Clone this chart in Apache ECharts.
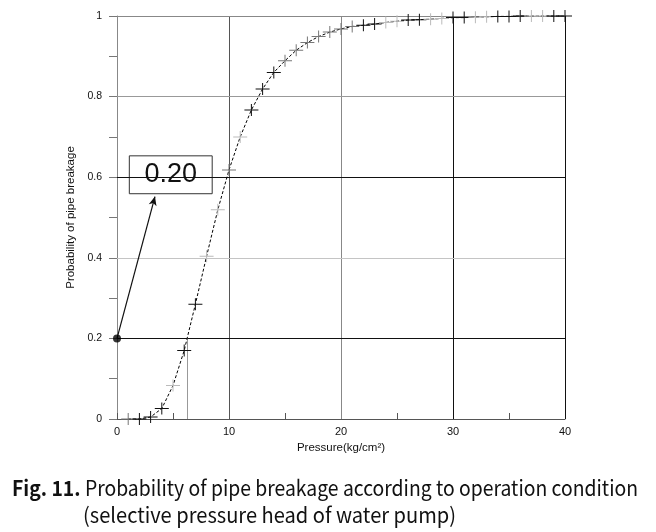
<!DOCTYPE html>
<html>
<head>
<meta charset="utf-8">
<script src="https://cdn.jsdelivr.net/npm/echarts@6/dist/echarts.min.js"></script>
<style>html,body{margin:0;padding:0;background:#fff;}#c{width:656px;height:532px;}</style>
</head>
<body>
<div id="c"></div>
<script>
// ---- data ----
const pressure = [1,2,3,4,5,6,7,8,9,10,11,12,13,14,15,16,17,18,19,20,21,22,23,24,25,26,27,28,29,30,31,32,33,34,35,36,37,38,39,40];
const probability = [0,0,0.005,0.026,0.083,0.17,0.285,0.404,0.519,0.618,0.70,0.767,0.819,0.86,0.889,0.915,0.934,0.949,0.96,0.968,0.974,0.977,0.98,0.984,0.987,0.99,0.991,0.992,0.994,0.996,0.996,0.997,0.998,0.999,0.999,1,1,1,1,1];
const xTicks = [0,10,20,30,40];
const yTicks = [0,0.2,0.4,0.6,0.8,1];
const selectedPoint = [0, 0.2];
const selectedLabel = '0.20';
const dropX = 6.25;           // pressure where curve reaches 0.2
const arrowEnd = [3.39, 0.552];
const boxCorners = [[1.1, 0.653], [8.5, 0.559]];
const xName = 'Pressure(kg/cm\u00B2)';
const yName = 'Probability of pipe breakage';
const captionBold = 'Fig. 11.';
const captionLine1 = ' Probability of pipe breakage according to operation condition';
const captionLine2 = '(selective pressure head of water pump)';

// ---- styles (not data) ----
const L='#bbb', G='#777', B='#111';
const crossShade = [G,B,B,B,L,B,B,L,L,G,L,B,B,B,G,G,G,G,G,G,G,B,B,L,L,B,B,L,L,B,B,L,L,B,B,B,L,L,B,B];

const chart = echarts.init(document.getElementById('c'), null, {renderer:'canvas'});
const AX = 'Liberation Sans, Arial, sans-serif';
const capFont = 'Noto Sans CJK KR';

function measure(txt, font){
  const c = document.createElement('canvas').getContext('2d');
  c.font = font; return c.measureText(txt).width;
}
const capSize = 21;
const w1 = measure(captionBold, 'bold '+capSize+'px "'+capFont+'"') + measure(captionLine1, capSize+'px "'+capFont+'"');
const s1 = (638-12)/w1;
const w2 = measure(captionLine2, capSize+'px "'+capFont+'"');
const s2 = (456-83)/w2;

const crossPath = 'path://M0,5.5h14v1h-14z M6.5,0h1v12h-1z';

const gridLines = [
  [{xAxis:10, lineStyle:{color:'#555'}}],
  [{xAxis:20, lineStyle:{color:'#888'}}],
  [{xAxis:30, lineStyle:{color:'#111'}}],
  [{xAxis:40, lineStyle:{color:'#111'}}],
  [{yAxis:0.2, lineStyle:{color:'#111'}}],
  [{yAxis:0.4, lineStyle:{color:'#c4c4c4'}}],
  [{yAxis:0.6, lineStyle:{color:'#111'}}],
  [{yAxis:0.8, lineStyle:{color:'#999'}}],
  [{yAxis:1, lineStyle:{color:'#888'}}],
  [{coord:[dropX,0], lineStyle:{color:'#999'}},{coord:[dropX,selectedPoint[1]]}]
].map(d => d.length===1 ? d[0] : d);

const option = {
  animation:false,
  backgroundColor:'#fff',
  grid:{left:117, top:16, width:448, height:403, containLabel:false},
  xAxis:{
    type:'value', min:0, max:40, interval:5,
    name:xName, nameLocation:'middle', nameGap:17,
    nameTextStyle:{fontFamily:AX, fontSize:11.5, color:'#111'},
    axisLine:{show:true, lineStyle:{color:'#555', width:1}},
    axisTick:{show:true, inside:true, length:6, lineStyle:{color:'#555'}},
    axisLabel:{fontFamily:AX, fontSize:11, color:'#111', margin:7,
      formatter:v => xTicks.indexOf(v)>=0 ? String(v) : ''},
    splitLine:{show:false}
  },
  yAxis:{
    type:'value', min:0, max:1, interval:0.1,
    name:yName, nameLocation:'middle', nameGap:35, nameRotate:90,
    nameTextStyle:{fontFamily:AX, fontSize:11.5, color:'#111'},
    axisLine:{show:true, lineStyle:{color:'#888', width:1}},
    axisTick:{show:true, inside:false, length:8, lineStyle:{color:'#777'}},
    axisLabel:{fontFamily:AX, fontSize:10.5, color:'#111', margin:15,
      formatter:v => { const r = Math.round(v*10)/10; return yTicks.indexOf(r)>=0 ? String(r) : ''; }},
    splitLine:{show:false}
  },
  series:[
    {
      type:'line', data:[], silent:true,
      markLine:{silent:true, symbol:'none', label:{show:false}, lineStyle:{type:'solid', width:1}, data:gridLines},
      markArea:{silent:true,
        itemStyle:{color:'rgba(0,0,0,0)', borderColor:'#333', borderWidth:1},
        label:{show:true, position:'inside', formatter:selectedLabel, fontFamily:AX, fontSize:27, color:'#111'},
        data:[[{coord:boxCorners[0]},{coord:boxCorners[1]}]]}
    },
    {
      type:'line', silent:true,
      data: pressure.map((x,i)=>({value:[x, probability[i]], itemStyle:{color:crossShade[i]}})),
      symbol:crossPath, symbolSize:[14,12], showSymbol:true, clip:false,
      lineStyle:{color:'#000', width:1, type:[3,2]},
      z:5
    },
    {
      type:'scatter', silent:true, data:[selectedPoint], symbol:'circle', symbolSize:8,
      itemStyle:{color:'#000'}, z:6,
      markLine:{silent:true, symbol:['none','arrow'], symbolSize:[6,9], label:{show:false},
        lineStyle:{color:'#111', type:'solid', width:1.2},
        data:[[{coord:selectedPoint},{coord:arrowEnd}]]}
    }
  ],
  graphic:[
    {type:'text', x:12, y:488, scaleX:s1, style:{
      text:'{b|'+captionBold+'}'+captionLine1,
      fontFamily:capFont, fontSize:capSize, fill:'#111', verticalAlign:'middle',
      rich:{b:{fontFamily:capFont, fontSize:capSize, fontWeight:'bold', fill:'#111'}}
    }},
    {type:'text', x:83, y:515, scaleX:s2, style:{
      text:captionLine2, fontFamily:capFont, fontSize:capSize, fill:'#111', verticalAlign:'middle'
    }}
  ]
};
chart.setOption(option);
</script>
</body>
</html>
